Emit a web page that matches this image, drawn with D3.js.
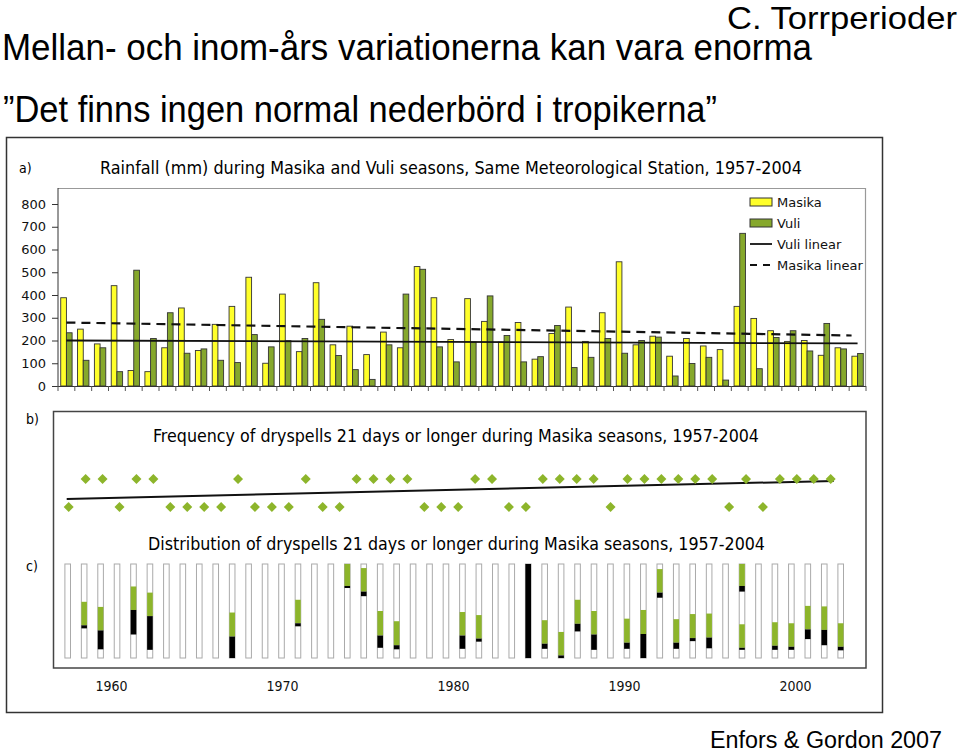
<!DOCTYPE html>
<html><head><meta charset="utf-8">
<script src="https://cdn.jsdelivr.net/npm/d3@7"></script>
<style>body{margin:0;background:#fff}svg{display:block}</style>
</head><body>
<script>
// ---------- DATA ----------
const years = [1957,1958,1959,1960,1961,1962,1963,1964,1965,1966,1967,1968,1969,1970,1971,1972,1973,1974,1975,1976,1977,1978,1979,1980,1981,1982,1983,1984,1985,1986,1987,1988,1989,1990,1991,1992,1993,1994,1995,1996,1997,1998,1999,2000,2001,2002,2003,2004];
const masika = [388,250,185,441,68,63,168,343,156,271, 350,478,100,404,151,454,181,263,138,237, 168,525,388,204,384,284,193,279,118,231, 347,196,322,546,181,219,131,209,176,160, 350,297,243,196,200,135,168,131];
const vuli   = [234,113,168,63,509,209,322,144,163,113, 103,226,172,199,209,293,134,72,29,181, 404,513,172,106,193,396,222,106,129,266, 81,126,209,144,200,215,44,99,126,26, 671,76,213,243,154,275,163,143];
const vuliTrend = [200, 187];     // fitted line at first and last year
const masikaTrend = [279, 222];
const rainTicks = [0,100,200,300,400,500,600,700,800];
const legendItems = ["Masika","Vuli","Vuli linear","Masika linear"];

// panel b: dryspell frequency per season (46 seasons with data)
const dryFreq = [0,1,1,0,1,1,0,0,0,0, 1,0,0,0,1,0,0,1,1,1, 1,0,0,0,1,1,0,0,1,1, 1,1,0,1,1,1,1,1,1,0, 1,0,1,1,1,1];
const dryFreqTrend = [0.29, 0.93];

// panel c: dryspells (day of season: start, end of first 21 days, end)
const dryspells = [
 {year:1958,start:37,mid:60,end:63},{year:1959,start:42,mid:65,end:83.5},
 {year:1961,start:22,mid:45,end:69},{year:1962,start:28,mid:51,end:84},
 {year:1967,start:47.5,mid:71,end:92},{year:1971,start:35,mid:58,end:61},
 {year:1974,start:0,mid:21.5,end:23.5},{year:1975,start:4,mid:27,end:31.5},
 {year:1976,start:46,mid:70,end:82},{year:1977,start:56,mid:79.5,end:83.5},
 {year:1981,start:47,mid:70,end:83},{year:1982,start:50,mid:73,end:76},
 {year:1985,start:0,mid:0,end:92},{year:1986,start:55,mid:78,end:83},
 {year:1987,start:66.5,mid:89.5,end:92},{year:1988,start:35,mid:58.5,end:66},
 {year:1989,start:46,mid:69,end:84},{year:1991,start:53.5,mid:77,end:83},
 {year:1992,start:45,mid:68.5,end:92},{year:1993,start:5,mid:28,end:33},
 {year:1994,start:54,mid:77,end:83},{year:1995,start:49,mid:72.5,end:75.5},
 {year:1996,start:48.5,mid:72,end:82.5},{year:1998,start:0,mid:21.5,end:27},
 {year:1998,start:59,mid:82,end:84},{year:2000,start:57,mid:80,end:84},
 {year:2001,start:58,mid:81,end:84},{year:2002,start:41,mid:64,end:73.5},
 {year:2003,start:41.5,mid:64.5,end:79.5},{year:2004,start:58,mid:81,end:84.5}
];
const seasonDays = 92;
const yearTicks = [1960,1970,1980,1990,2000];

// ---------- DRAW ----------
const W = 960, H = 752;
const svg = d3.select("body").append("svg").attr("width", W).attr("height", H);
const YEL = "#ffff2a", GRN = "#86a82c", DGRN = "#8db52b";
const sans = "'Liberation Sans', Arial, sans-serif";
const verd = "'DejaVu Sans', Verdana, sans-serif";
const tah = "'DejaVu Sans Condensed','DejaVu Sans', sans-serif";

function txt(s, x, y, size, fam, len, anchor) {
  const t = svg.append("text").attr("x", x).attr("y", y).attr("font-size", size)
    .attr("font-family", fam).attr("fill", "#000").text(s);
  if (anchor) t.attr("text-anchor", anchor);
  if (len) t.attr("textLength", len).attr("lengthAdjust", "spacingAndGlyphs");
  return t;
}

// header texts
txt("C. Torrperioder", 727, 29, 32, sans, 230);
txt("Mellan- och inom-års variationerna kan vara enorma", 2, 60, 36, sans, 810);
txt("”Det finns ingen normal nederbörd i tropikerna”", 3, 122, 36, sans, 714);
txt("Enfors & Gordon 2007", 710, 748, 23, sans, 232);

// outer frame
svg.append("rect").attr("x", 6.5).attr("y", 137.5).attr("width", 876).attr("height", 575)
  .attr("fill", "none").attr("stroke", "#333").attr("stroke-width", 1.5);

// ---- panel a ----
txt("a)", 19, 173, 14, tah);
txt("Rainfall (mm) during Masika and Vuli seasons, Same Meteorological Station, 1957-2004", 100, 174, 17, tah, 702);

const xA = d3.scaleBand().domain(years).range([58, 866]).paddingInner(0).paddingOuter(0);
const sub = d3.scaleBand().domain(["m","v"]).range([0, xA.bandwidth()]).paddingInner(0).paddingOuter(0.48);
const yA = d3.scaleLinear().domain([0, 800]).range([386, 204]);

// frame lines (top/right)
svg.append("path").attr("d", `M58,188.5H865.5V386`).attr("fill","none").attr("stroke","#999").attr("stroke-width",1.2);

const ga = svg.append("g");
ga.selectAll("rect.m").data(years).join("rect")
  .attr("x", d => xA(d) + sub("m")).attr("width", sub.bandwidth())
  .attr("y", (d,i) => yA(masika[i])).attr("height", (d,i) => yA(0) - yA(masika[i]))
  .attr("fill", YEL).attr("stroke", "#333").attr("stroke-width", 0.9);
ga.selectAll("rect.v").data(years).join("rect")
  .attr("x", d => xA(d) + sub("v")).attr("width", sub.bandwidth())
  .attr("y", (d,i) => yA(vuli[i])).attr("height", (d,i) => yA(0) - yA(vuli[i]))
  .attr("fill", GRN).attr("stroke", "#333").attr("stroke-width", 0.9);

const xc = d => xA(d) + xA.bandwidth()/2;
const y0 = years[0], y1 = years[years.length-1];
svg.append("line").attr("x1", xc(y0)).attr("x2", xc(y1))
  .attr("y1", yA(vuliTrend[0])).attr("y2", yA(vuliTrend[1]))
  .attr("stroke", "#111").attr("stroke-width", 1.8);
svg.append("line").attr("x1", xc(y0)).attr("x2", xc(y1) - 6)
  .attr("y1", yA(masikaTrend[0])).attr("y2", yA(masikaTrend[1]))
  .attr("stroke", "#111").attr("stroke-width", 2.2).attr("stroke-dasharray", "9,6");

// y axis
const axY = svg.append("g").attr("transform", "translate(58,0)")
  .call(d3.axisLeft(yA).tickValues(rainTicks).tickSize(6).tickPadding(6));
axY.select(".domain").attr("stroke", "#333").attr("d", "M0,188V386");
axY.selectAll(".tick line").attr("stroke", "#333");
axY.selectAll(".tick text").attr("font-family", verd).attr("font-size", 13).attr("fill", "#111");

// x axis with band boundary ticks
svg.append("line").attr("x1", 58).attr("x2", 866).attr("y1", 386.5).attr("y2", 386.5).attr("stroke", "#333");
const bounds = years.map(d => xA(d)).concat([xA.range()[1]]);
svg.selectAll("line.bt").data(bounds).join("line")
  .attr("x1", d => d).attr("x2", d => d).attr("y1", 386).attr("y2", 391).attr("stroke", "#555");

// legend
const lg = svg.append("g");
const lgY = [202, 223, 244, 265];
lg.append("rect").attr("x", 750).attr("y", lgY[0]-4).attr("width", 22).attr("height", 8).attr("fill", YEL).attr("stroke", "#333");
lg.append("rect").attr("x", 750).attr("y", lgY[1]-4).attr("width", 22).attr("height", 8).attr("fill", GRN).attr("stroke", "#333");
lg.append("line").attr("x1", 750).attr("x2", 772).attr("y1", lgY[2]).attr("y2", lgY[2]).attr("stroke", "#111").attr("stroke-width", 1.8);
lg.append("line").attr("x1", 750).attr("x2", 772).attr("y1", lgY[3]).attr("y2", lgY[3]).attr("stroke", "#111").attr("stroke-width", 2.2).attr("stroke-dasharray", "7,6");
legendItems.forEach((s, i) => {
  lg.append("text").attr("x", 777).attr("y", lgY[i] + 5).attr("font-family", verd)
    .attr("font-size", 13).attr("fill", "#111").text(s);
});

// ---- panel b / c box ----
txt("b)", 26, 424, 14, tah);
txt("c)", 26, 571, 14, tah);
svg.append("rect").attr("x", 53.5).attr("y", 411.5).attr("width", 812.5).attr("height", 256.5)
  .attr("fill", "none").attr("stroke", "#444").attr("stroke-width", 1.5);

txt("Frequency of dryspells 21 days or longer during Masika seasons, 1957-2004", 153, 442, 17, tah, 606);

const idx = dryFreq.map((d, i) => i);
const xB = d3.scalePoint().domain(idx).range([68.7, 830.7]);
const yB = d3.scaleLinear().domain([0, 1]).range([507, 479]);
svg.append("line").attr("x1", xB(0) - 2).attr("x2", xB(idx.length-1) + 3)
  .attr("y1", yB(dryFreqTrend[0])).attr("y2", yB(dryFreqTrend[1]))
  .attr("stroke", "#111").attr("stroke-width", 2);
svg.selectAll("path.dm").data(dryFreq).join("path")
  .attr("d", d3.symbol().type(d3.symbolSquare).size(50))
  .attr("transform", (d, i) => `translate(${xB(i)},${yB(d)}) rotate(45)`)
  .attr("fill", DGRN);

// ---- panel c ----
txt("Distribution of dryspells 21 days or longer during Masika seasons, 1957-2004", 148, 550, 17, tah, 617);
const xC = d3.scalePoint().domain(years).range([67.7, 840.7]);
const yC = d3.scaleLinear().domain([0, seasonDays]).range([564, 658]);
const bw = 5.6;
svg.selectAll("rect.sc").data(years).join("rect")
  .attr("x", d => xC(d) - bw/2).attr("width", bw).attr("y", yC(0)).attr("height", yC(seasonDays) - yC(0))
  .attr("fill", "#fff").attr("stroke", "#aaa").attr("stroke-width", 1);
svg.selectAll("rect.dg").data(dryspells.filter(d => d.mid > d.start)).join("rect")
  .attr("x", d => xC(d.year) - bw/2).attr("width", bw)
  .attr("y", d => yC(d.start)).attr("height", d => yC(d.mid) - yC(d.start))
  .attr("fill", DGRN);
svg.selectAll("rect.db").data(dryspells.filter(d => d.end > d.mid)).join("rect")
  .attr("x", d => xC(d.year) - bw/2).attr("width", bw)
  .attr("y", d => yC(d.mid)).attr("height", d => yC(d.end) - yC(d.mid))
  .attr("fill", "#000");

// year axis labels
const xY = d3.scaleLinear().domain([1960, 2000]).range([111, 795]);
const axT = svg.append("g").attr("transform", "translate(0,686)")
  .call(d3.axisBottom(xY).tickValues(yearTicks).tickFormat(d3.format("d")).tickSize(0).tickPadding(0));
axT.select(".domain").remove();
axT.selectAll("text").attr("font-family", tah).attr("font-size", 14).attr("fill", "#111").attr("dy", "0.35em");
</script>
</body></html>
